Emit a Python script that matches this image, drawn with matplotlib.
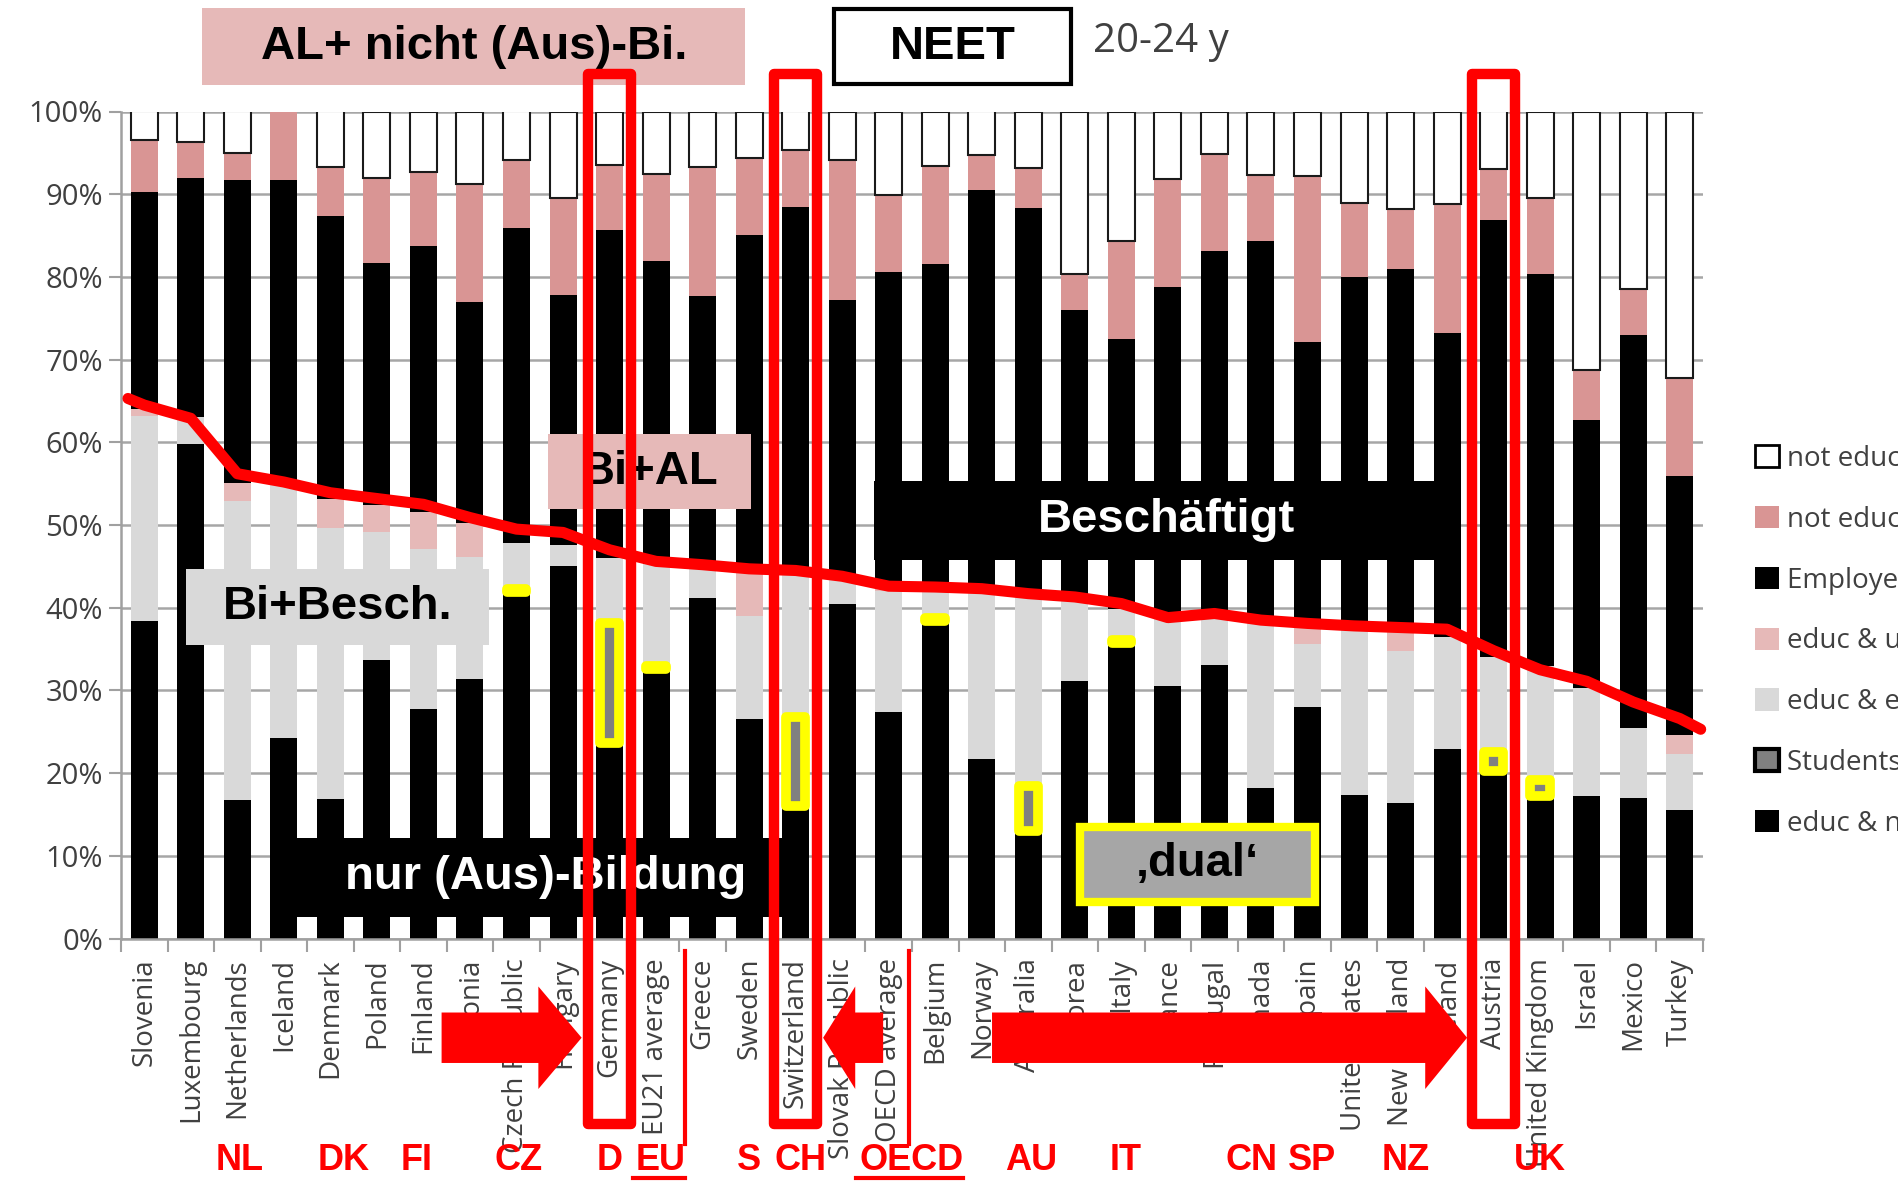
import matplotlib.pyplot as plt
import numpy as np
from matplotlib.patches import Rectangle, Polygon, Patch

# Anteile der 20-24-Jährigen in %, Reihenfolge wie im Original (sortiert nach Bildungsanteil)
countries = ["Slovenia", "Luxembourg", "Netherlands", "Iceland", "Denmark", "Poland",
             "Finland", "Estonia", "Czech Republic", "Hungary", "Germany", "EU21 average",
             "Greece", "Sweden", "Switzerland", "Slovak Republic", "OECD average", "Belgium",
             "Norway", "Australia", "Korea", "Italy", "France", "Portugal", "Canada", "Spain",
             "United States", "New Zealand", "Ireland", "Austria", "United Kingdom", "Israel",
             "Mexico", "Turkey"]

educ_nlf = [38.4, 59.8, 16.8, 24.3, 16.9, 33.7, 27.8, 31.4, 41.9, 45.1, 23.6, 32.6,
            41.2, 26.5, 16.0, 40.4, 27.4, 38.4, 21.7, 13.0, 31.1, 35.7, 30.5, 33.1,
            18.2, 28.0, 17.4, 16.4, 22.9, 20.3, 17.2, 17.2, 17.0, 15.5]
students = [0, 0, 0, 0, 0, 0, 0, 0, 0.4, 0, 14.6, 0.4,
            0, 0, 10.8, 0, 0, 0.4, 0, 5.4, 0, 0.4, 0, 0,
            0, 0, 0, 0, 0, 2.2, 2.0, 0, 0, 0]
educ_emp = [24.8, 3.3, 36.1, 31.0, 32.7, 15.5, 19.3, 14.7, 5.5, 2.5, 7.8, 12.3,
            3.5, 12.5, 17.7, 3.4, 14.6, 3.5, 20.3, 22.9, 9.9, 3.7, 8.4, 5.7,
            20.2, 7.6, 20.4, 18.4, 13.6, 11.5, 13.8, 13.1, 8.4, 6.8]
educ_unemp = [0.8, 0, 2.2, 0, 3.6, 3.2, 4.5, 4.2, 0, 0, 0, 0,
              0, 5.5, 0, 0, 0.6, 0, 0, 0, 0, 0, 0, 0,
              0, 2.4, 0, 2.7, 0, 0, 0, 0, 0, 2.3]
employed = [26.3, 28.8, 36.6, 36.4, 34.2, 29.3, 32.1, 26.7, 38.1, 30.2, 39.7, 36.6,
            33.0, 40.6, 43.9, 33.4, 38.0, 39.3, 48.5, 47.0, 35.0, 32.7, 39.9, 44.3,
            45.9, 34.1, 42.2, 43.5, 36.7, 52.9, 47.4, 32.4, 47.6, 31.3]
ne_unemp = [6.2, 4.4, 3.3, 8.3, 5.9, 10.3, 9.0, 14.2, 8.2, 11.7, 7.8, 10.6,
            15.6, 9.3, 7.0, 16.9, 9.3, 11.8, 4.3, 4.9, 4.4, 11.9, 13.0, 11.8,
            8.0, 20.1, 8.9, 7.2, 15.6, 6.1, 9.1, 6.0, 5.5, 11.9]
ne_nlf = [3.5, 3.7, 5.0, 0, 6.7, 8.0, 7.3, 8.8, 5.9, 10.5, 6.5, 7.5,
          6.7, 5.6, 4.6, 5.9, 10.1, 6.6, 5.2, 6.8, 19.6, 15.6, 8.2, 5.1,
          7.7, 7.8, 11.1, 11.8, 11.2, 7.0, 10.5, 31.3, 21.5, 32.2]

# handgezeichnete rote Linie (Grenze Bildung / nicht in Bildung)
red_line = [64.5, 62.9, 56.2, 55.2, 53.9, 53.2, 52.5, 50.9, 49.5, 49.1, 47.0, 45.6,
            45.2, 44.7, 44.5, 43.8, 42.6, 42.5, 42.3, 41.7, 41.3, 40.5, 38.8, 39.3,
            38.5, 38.1, 37.8, 37.6, 37.4, 34.8, 32.5, 31.1, 28.6, 26.6]

legend_labels = ["not educ. & not in the labour force", "not educ. & unemployed",
                 "Employed, not in education", "educ & unemployed",
                 "educ & employed (other)", "Students in work-study programmes",
                 "educ & not in the labour force"]

# Kuerzel unten (Text, x-Position in Kategorien)
short_labels = [("NL", 2.04), ("DK", 4.28), ("FI", 5.85), ("CZ", 8.05), ("D", 10.0),
                ("EU", 11.1), ("S", 13.0), ("CH", 14.1), ("OECD", 16.5), ("AU", 19.07),
                ("IT", 21.1), ("CN", 23.8), ("SP", 25.1), ("NZ", 27.1), ("UK", 30.0)]

BOLD = ["Liberation Sans", "DejaVu Sans"]
GREY_TXT = "#404040"

fig = plt.figure(figsize=(18.99, 11.85), dpi=100)
ax = fig.add_axes([121 / 1899, 1 - 938.5 / 1185, 1582 / 1899, 827 / 1185])

n = len(countries)
x = np.arange(n)
w = 0.58
bottom = np.zeros(n)

ax.bar(x, educ_nlf, w, bottom=bottom, color="black", zorder=2)
bottom += educ_nlf
st = ax.bar(x, students, 0.42, bottom=bottom, color="#808080",
            edgecolor=["yellow" if s > 0 else "none" for s in students],
            linewidth=7, zorder=6)
for p in st.patches:
    p.set_joinstyle("round")
bottom += students
ax.bar(x, educ_emp, w, bottom=bottom, color="#D9D9D9", zorder=2)
bottom += educ_emp
ax.bar(x, educ_unemp, w, bottom=bottom, color="#E6B9B8", zorder=2)
bottom += educ_unemp
ax.bar(x, employed, w, bottom=bottom, color="black", zorder=2)
bottom += employed
ax.bar(x, ne_unemp, w, bottom=bottom, color="#D99594", zorder=2)
bottom += ne_unemp
ax.bar(x, ne_nlf, w, bottom=bottom, color="white",
       edgecolor=["#1a1a1a" if v > 0 else "none" for v in ne_nlf], linewidth=1.5, zorder=2)

ax.set_xlim(-0.5, n - 0.5)
ax.set_ylim(0, 100)
ax.set_yticks(range(0, 101, 10))
ax.set_yticklabels([f"{v}%" for v in range(0, 101, 10)], fontsize=21,
                   color=GREY_TXT, family="Open Sans")
ax.set_xticks(x)
ax.set_xticklabels(countries, rotation=90, fontsize=20, color=GREY_TXT, family="Open Sans")
ax.set_xticks(np.arange(-0.5, n, 1), minor=True)
ax.tick_params(axis="x", which="major", length=0, pad=14)
ax.tick_params(axis="x", which="minor", length=9, color="#A0A0A0", width=1.5)
ax.tick_params(axis="y", length=9, color="#A0A0A0", width=1.5, pad=4)
ax.grid(axis="y", color="#A6A6A6", lw=1.8)
ax.set_axisbelow(True)
for s in ["top", "right"]:
    ax.spines[s].set_visible(False)
for s in ["left", "bottom"]:
    ax.spines[s].set_color("#A0A0A0")
    ax.spines[s].set_linewidth(1.8)

# rote Linie
lx = np.concatenate([[-0.35], x, [n - 0.55]])
ly = np.concatenate([[red_line[0] + 0.8], red_line, [red_line[-1] - 1.3]])
ax.plot(lx, ly, color="red", lw=8, solid_capstyle="round", solid_joinstyle="round",
        zorder=8, clip_on=False)


def box(x0, x1, y0, y1, text, fc, tc="black", ec="none", lw=0, size=34):
    ax.add_patch(Rectangle((x0, y0), x1 - x0, y1 - y0, facecolor=fc, edgecolor=ec,
                           linewidth=lw, zorder=5, clip_on=False))
    ax.text((x0 + x1) / 2, (y0 + y1) / 2, text, ha="center", va="center", color=tc,
            fontsize=size, fontweight="bold", family=BOLD, zorder=5.5, clip_on=False)


box(1.24, 12.92, 103.2, 112.5, "AL+ nicht (Aus)-Bi.", "#E6B9B8")
box(14.82, 19.92, 103.3, 112.4, "NEET", "white", ec="black", lw=3)
box(8.67, 13.05, 51.9, 61.0, "Bi+AL", "#E6B9B8")
box(15.69, 28.24, 45.8, 55.3, "Beschäftigt", "black", tc="white")
box(0.9, 7.4, 35.5, 44.7, "Bi+Besch.", "#D9D9D9")
box(3.18, 14.08, 2.6, 12.2, "nur (Aus)-Bildung", "black", tc="white")
box(20.1, 25.16, 4.4, 13.5, "\u201adual\u2018", "#A6A6A6", ec="yellow", lw=6)
ax.text(20.4, 108.4, "20-24 y", fontsize=29, color=GREY_TXT, family="Open Sans",
        va="center", ha="left", clip_on=False)

# rote Rahmen um D, CH, A
for c in ["Germany", "Switzerland", "Austria"]:
    i = countries.index(c)
    ax.add_patch(Rectangle((i - 0.46, -22.4), 0.92, 126.9, facecolor="none",
                           edgecolor="red", linewidth=7.5, joinstyle="round",
                           zorder=9, clip_on=False))

# duenne rote Trennlinien
for xv in [11.63, 16.44]:
    ax.plot([xv, xv], [-1.5, -24.8], color="red", lw=3, zorder=9, clip_on=False)


def arrow(x_tail, x_base, x_tip):
    yc, bh, hh = -12.0, 3.05, 6.2
    pts = [(x_tail, yc + bh), (x_base, yc + bh), (x_base, yc + hh), (x_tip, yc),
           (x_base, yc - hh), (x_base, yc - bh), (x_tail, yc - bh)]
    ax.add_patch(Polygon(pts, closed=True, facecolor="red", edgecolor="none",
                         zorder=10, clip_on=False))


arrow(6.39, 8.47, 9.40)
arrow(15.88, 15.28, 14.59)
arrow(18.22, 27.53, 28.43)

for lab, xv in short_labels:
    ax.text(xv, -26.8, lab, color="red", fontsize=26, fontweight="bold", family=BOLD,
            ha="center", va="center", zorder=10, clip_on=False)
ax.plot([10.5, 11.63], [-28.9, -28.9], color="red", lw=3, zorder=10, clip_on=False)
ax.plot([15.3, 17.6], [-28.9, -28.9], color="red", lw=3, zorder=10, clip_on=False)

# Legende (rechts abgeschnitten wie im Original)
handles = [Patch(facecolor="white", edgecolor="black", linewidth=2),
           Patch(facecolor="#D99594", edgecolor="none"),
           Patch(facecolor="black", edgecolor="none"),
           Patch(facecolor="#E6B9B8", edgecolor="none"),
           Patch(facecolor="#D9D9D9", edgecolor="none"),
           Patch(facecolor="#808080", edgecolor="black", linewidth=3),
           Patch(facecolor="black", edgecolor="none")]
leg = fig.legend(handles, legend_labels, loc="upper left",
                 bbox_to_anchor=(1730 / 1899, 1 - 420 / 1185), frameon=False,
                 prop={"family": "Open Sans", "size": 20}, handlelength=0.85,
                 handleheight=0.85, handletextpad=0.3, labelspacing=1.18)
for t in leg.get_texts():
    t.set_color(GREY_TXT)

fig.savefig("out.png", dpi=100)
